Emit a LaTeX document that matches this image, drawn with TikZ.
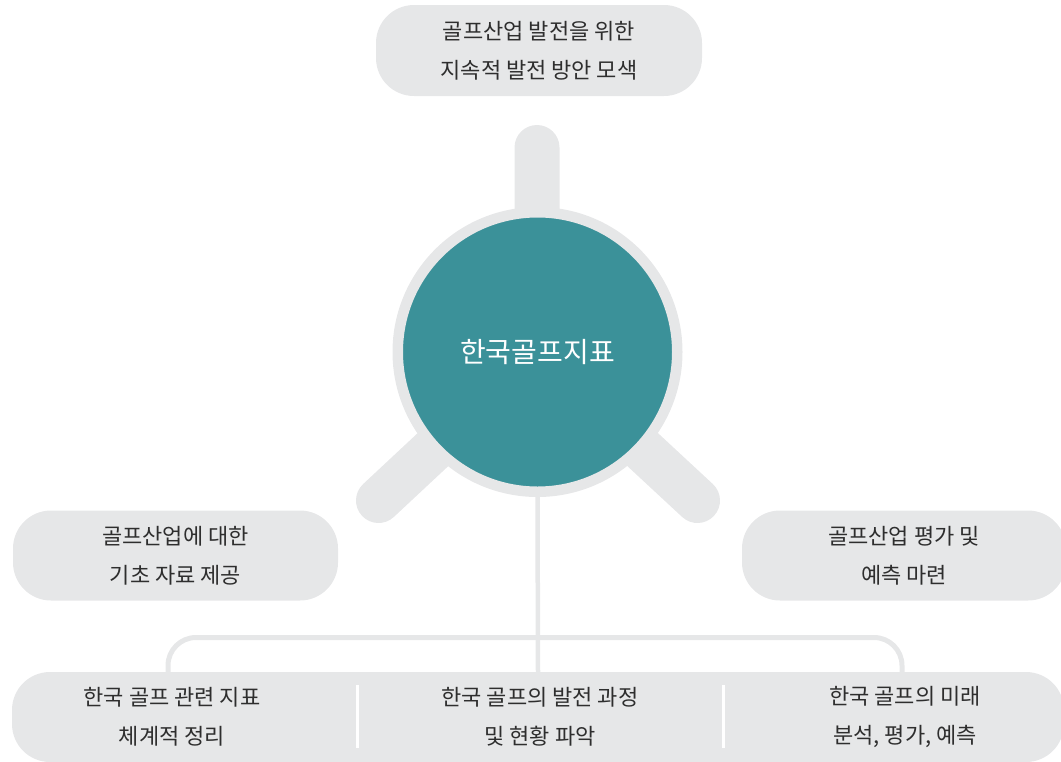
\documentclass[tikz,border=0pt]{standalone}
\usepackage{fontspec}
\setmainfont{Noto Sans CJK KR}
\definecolor{boxgray}{HTML}{E6E7E8}
\definecolor{hubteal}{HTML}{3B9199}
\definecolor{txt}{HTML}{2E2E2E}
\tikzset{
  box/.style={fill=boxgray, rounded corners=38pt, inner sep=0pt, align=center,
              text=txt, font=\fontsize{22}{39}\selectfont},
  label/.style={inner sep=0pt, align=center, text=txt, font=\fontsize{22}{39}\selectfont},
  leg/.style={draw=boxgray, line width=45pt, line cap=round},
  hubstyle/.style={circle, fill=hubteal, draw=boxgray, line width=10.5pt,
                   minimum size=279.5pt, inner sep=0pt, text=white,
                   font=\fontsize{28}{32}\selectfont},
  thinline/.style={draw=boxgray, line width=4.5pt},
  bracketline/.style={draw=boxgray, line width=5pt, rounded corners=28pt},
  divider/.style={draw=white, line width=3pt}
}
\begin{document}
\begin{tikzpicture}[x=1pt,y=-1pt]
\useasboundingbox (0,0) rectangle (1061,761);
% hub centre and leg ends
\coordinate (hubc) at (537.5,352);
\coordinate (stemtop) at (537,147.5);
\coordinate (legL) at (378.5,500.5);
\coordinate (legR) at (697.5,500.5);
\draw[leg] (hubc) -- (stemtop);
\draw[leg] (hubc) -- (legL);
\draw[leg] (hubc) -- (legR);
% boxes
\node[box, minimum width=326, minimum height=91] (goal) at (539,50.5)
  {골프산업 발전을 위한\\지속적 발전 방안 모색};
\node[box, minimum width=325, minimum height=90] (left) at (175.5,555.5)
  {골프산업에 대한\\기초 자료 제공};
\node[box, minimum width=324, minimum height=90] (right) at (904,555.5)
  {골프산업 평가 및\\예측 마련};
\node[box, minimum width=1052, minimum height=90] (bottom) at (538,717) {};
% hub
\node[hubstyle] (hub) at (hubc) {한국골프지표};
% connectors
\draw[thinline] (hub.south) -- (bottom.north);
\coordinate (bl) at (168,637.5);
\coordinate (br) at (902,637.5);
\draw[bracketline] (bottom.north -| bl) -- (bl) -- (br) -- (bottom.north -| br);
% bottom labels
\node[label] (b1) at (172,716.5) {한국 골프 관련 지표\\체계적 정리};
\node[label] (b2) at (540,716.5) {한국 골프의 발전 과정\\및 현황 파악};
\node[label] (b3) at (905,716.5) {한국 골프의 미래\\분석, 평가, 예측};
\draw[divider] (357,685) -- (357,748);
\draw[divider] (723,685) -- (723,748);
\end{tikzpicture}
\end{document}
